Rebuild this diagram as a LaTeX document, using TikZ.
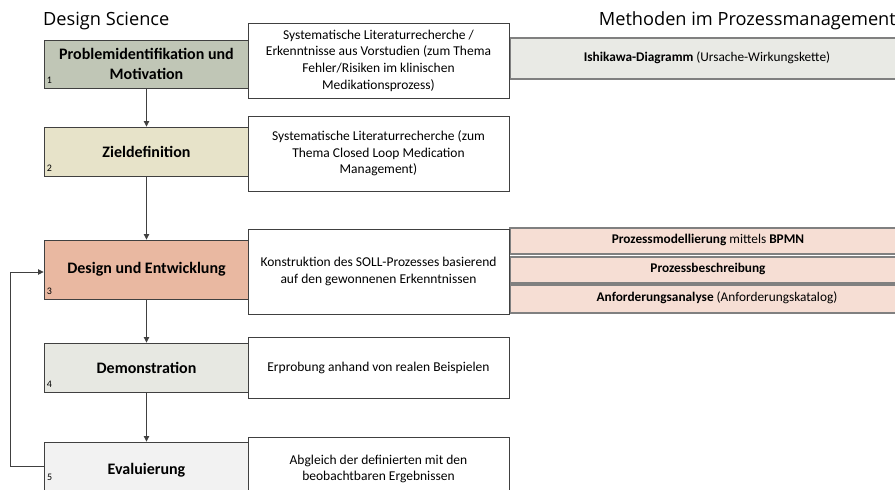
\documentclass[tikz,border=0pt]{standalone}
\usepackage{fontspec}
\setmainfont{Carlito}
\newfontfamily\headfont{Open Sans}
\usetikzlibrary{arrows.meta}
\definecolor{linecol}{RGB}{64,64,64}
\definecolor{bargray}{RGB}{128,128,128}
\definecolor{cone}{RGB}{192,198,182}
\definecolor{ctwo}{RGB}{231,227,201}
\definecolor{cthree}{RGB}{233,184,161}
\definecolor{cfour}{RGB}{231,232,226}
\definecolor{cfive}{RGB}{242,242,242}
\definecolor{cbargrey}{RGB}{233,234,229}
\definecolor{cbarpink}{RGB}{246,222,212}
\tikzset{
  stage/.style={draw=linecol, line width=0.9pt, minimum width=205pt, inner sep=0pt,
    font=\fontsize{16}{19.5}\selectfont\bfseries, align=center},
  descbox/.style={draw=linecol, fill=white, line width=0.9pt, minimum width=261pt,
    inner sep=0pt, align=center, font=\fontsize{13.5}{16.7}\selectfont},
  bar/.style={draw=bargray, line width=1.5pt, minimum width=420pt, anchor=north west, inner sep=0pt},
  bartext/.style={font=\fontsize{13.3}{15}\selectfont, inner sep=0pt},
  num/.style={font=\fontsize{10}{11}\selectfont, anchor=base west, inner sep=0pt},
  head/.style={font=\headfont\fontsize{18.2}{20}\selectfont, inner sep=0pt},
  flow/.style={-{Triangle[length=5.5pt,width=5.5pt]}, draw=linecol, line width=0.8pt}
}
\begin{document}
\begin{tikzpicture}[x=1pt,y=-1pt]
\useasboundingbox (0,0) rectangle (895,490);
\clip (0,0) rectangle (895,490);
\fill[white] (0,0) rectangle (895,490);

% headings
\node[head, anchor=base west] (hds) at (43,25) {Design Science};
\node[head, anchor=base east] (hmp) at (896,25) {Methoden im Prozessmanagement};

% method bars
\node[bar, fill=cbargrey, minimum height=41pt] (b1) at (509,37) {};
\node[bartext] (b1t) at (707,58) {\textbf{Ishikawa-Diagramm} (Ursache-Wirkungskette)};
\node[bar, fill=cbarpink, minimum height=26pt] (b2) at (509,227) {};
\node[bartext] (b2t) at (708,240) {\textbf{Prozessmodellierung} mittels \textbf{BPMN}};
\node[bar, fill=cbarpink, minimum height=26pt] (b3) at (509,256) {};
\node[bartext] (b3t) at (708,269) {\textbf{Prozessbeschreibung}};
\node[bar, fill=cbarpink, minimum height=28pt] (b4) at (509,284) {};
\node[bartext] (b4t) at (717,298) {\textbf{Anforderungsanalyse} (Anforderungskatalog)};

% stages
\node[stage, fill=cone, minimum height=48pt] (s1) at (146.5,64) {Problemidentifikation und\\Motivation};
\node[stage, fill=ctwo, minimum height=49pt] (s2) at (146.5,151.5) {Zieldefinition};
\node[stage, fill=cthree, minimum height=59pt] (s3) at (146.5,269.5) {Design und Entwicklung};
\node[stage, fill=cfour, minimum height=49pt] (s4) at (146.5,367.5) {Demonstration};
\node[stage, fill=cfive, minimum height=56pt] (s5) at (146.5,470) {Evaluierung};

\node[num] (n1) at ([shift={(3,-5)}]s1.south west) {1};
\node[num] (n2) at ([shift={(3,-5)}]s2.south west) {2};
\node[num] (n3) at ([shift={(3,-5)}]s3.south west) {3};
\node[num] (n4) at ([shift={(3,-5)}]s4.south west) {4};
\node[num] (n5) at (47,480) {5};

% description boxes
\node[descbox, minimum height=75pt] (d1) at (378.5,60.5) {Systematische Literaturrecherche /\\Erkenntnisse aus Vorstudien (zum Thema\\Fehler/Risiken im klinischen\\Medikationsprozess)};
\node[descbox, minimum height=75pt] (d2) at (378.5,153.5) {Systematische Literaturrecherche (zum\\Thema Closed Loop Medication\\Management)};
\node[descbox, minimum height=85pt] (d3) at (378.5,271.5) {Konstruktion des SOLL-Prozesses basierend\\auf den gewonnenen Erkenntnissen};
\node[descbox, minimum height=61pt] (d4) at (378.5,367.5) {Erprobung anhand von realen Beispielen};
\node[descbox, minimum height=64pt] (d5) at (378.5,469) {Abgleich der definierten mit den\\beobachtbaren Ergebnissen};

% flow
\draw[flow] (s1) -- (s2);
\draw[flow] (s2) -- (s3);
\draw[flow] (s3) -- (s4);
\draw[flow] (s4) -- (s5);
\coordinate (fb) at (10,466);
\draw[flow] (s5.west |- fb) -- (fb) |- ([yshift=-2.5pt]s3.west);
\end{tikzpicture}
\end{document}
